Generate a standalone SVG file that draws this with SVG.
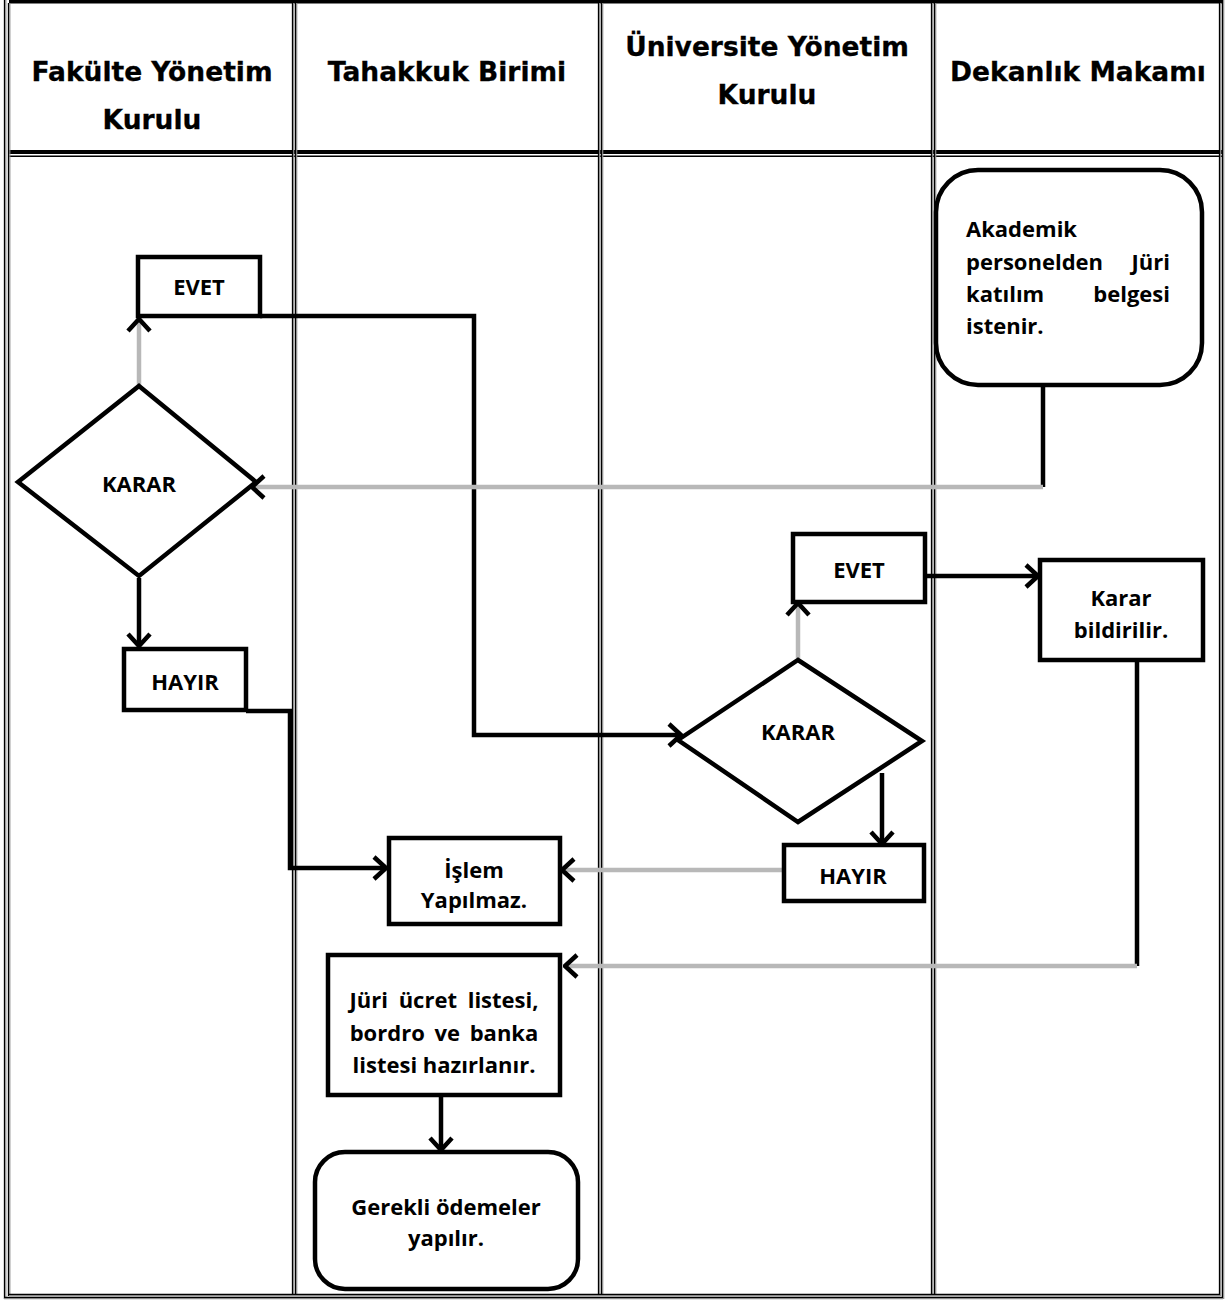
<svg xmlns="http://www.w3.org/2000/svg" width="1227" height="1300" viewBox="0 0 1227 1300">
<style>
.hdr{font-family:"DejaVu Sans",Verdana,sans-serif;font-weight:bold;font-size:26.5px;fill:#000;stroke:#000;stroke-width:0.3;text-anchor:middle}
.t{font-family:"Open Sans","Liberation Sans",sans-serif;font-weight:bold;font-size:22px;fill:#000;text-anchor:middle}
.tl{font-family:"Open Sans","Liberation Sans",sans-serif;font-weight:bold;font-size:22px;fill:#000}
.tr{font-family:"Open Sans","Liberation Sans",sans-serif;font-weight:bold;font-size:22px;fill:#000;text-anchor:end}
.box{fill:#fff;stroke:#000;stroke-width:4.5}
.bk{fill:none;stroke:#000;stroke-width:4.5}
.gr{fill:none;stroke:#b8b8b8;stroke-width:4.5}
.vb{stroke:#000;stroke-width:1.3}
.vg{stroke:#8a8a8a;stroke-width:1.2}
</style>
<defs>
<marker id="chev" viewBox="0 0 16 26" refX="14" refY="13" markerWidth="16" markerHeight="26" markerUnits="userSpaceOnUse" orient="auto">
<path d="M2,2 L14,13 L2,24" fill="none" stroke="#000" stroke-width="4.5"/>
</marker>
</defs>
<rect x="0" y="0" width="1227" height="1300" fill="#fff"/>
<g id="table">
<rect x="9" y="0" width="1213" height="3.5" fill="#000"/>
<rect x="9" y="150" width="1213" height="4" fill="#000"/>
<rect x="9" y="155.5" width="1213" height="1.5" fill="#000"/>
<line class="vb" x1="4.5" y1="0" x2="4.5" y2="1299"/>
<line class="vg" x1="5.8" y1="0" x2="5.8" y2="1299"/>
<line class="vb" x1="8.5" y1="3" x2="8.5" y2="1296"/>
<line class="vg" x1="9.8" y1="3" x2="9.8" y2="1296"/>
<line class="vb" x1="292.5" y1="3" x2="292.5" y2="1296"/>
<line class="vg" x1="293.7" y1="3" x2="293.7" y2="1296"/>
<line class="vb" x1="295.5" y1="3" x2="295.5" y2="1296"/>
<line class="vg" x1="296.7" y1="3" x2="296.7" y2="1296"/>
<line class="vb" x1="598.5" y1="3" x2="598.5" y2="1296"/>
<line class="vg" x1="599.7" y1="3" x2="599.7" y2="1296"/>
<line class="vb" x1="601.5" y1="3" x2="601.5" y2="1296"/>
<line class="vg" x1="602.7" y1="3" x2="602.7" y2="1296"/>
<line class="vb" x1="931.5" y1="3" x2="931.5" y2="1296"/>
<line class="vg" x1="932.7" y1="3" x2="932.7" y2="1296"/>
<line class="vb" x1="934.5" y1="3" x2="934.5" y2="1296"/>
<line class="vg" x1="935.7" y1="3" x2="935.7" y2="1296"/>
<line class="vb" x1="1219.5" y1="3" x2="1219.5" y2="1296"/>
<line class="vg" x1="1220.7" y1="3" x2="1220.7" y2="1296"/>
<line class="vb" x1="1222.5" y1="0" x2="1222.5" y2="1299"/>
<line class="vg" x1="1223.7" y1="0" x2="1223.7" y2="1299"/>
<line class="vb" x1="9" y1="1294.5" x2="1220" y2="1294.5"/>
<line class="vg" x1="9" y1="1295.7" x2="1220" y2="1295.7"/>
<line class="vb" x1="4" y1="1297.5" x2="1223" y2="1297.5"/>
<line class="vg" x1="4" y1="1298.7" x2="1223" y2="1298.7"/>
</g>
<g id="headers">
<text class="hdr" x="152" y="81">Fakülte Yönetim</text>
<text class="hdr" x="152" y="129">Kurulu</text>
<text class="hdr" x="447" y="81">Tahakkuk Birimi</text>
<text class="hdr" x="767" y="56">Üniversite Yönetim</text>
<text class="hdr" x="767" y="104">Kurulu</text>
<text class="hdr" x="1078" y="81">Dekanlık Makamı</text>
</g>
<g id="connectors">
<path class="gr" d="M139,386 L139,319" marker-end="url(#chev)"/>
<path class="bk" d="M139,578 L139,646" marker-end="url(#chev)"/>
<path class="bk" d="M246,711 L290,711 L290,868 L386,868" marker-end="url(#chev)"/>
<path class="bk" d="M260,316 L474,316 L474,735 L681,735" marker-end="url(#chev)"/>
<path class="gr" d="M798,658 L798,603" marker-end="url(#chev)"/>
<path class="bk" d="M925,576 L1038,576" marker-end="url(#chev)"/>
<path class="bk" d="M1137,660 L1137,966"/>
<path class="gr" d="M1137,966 L565,966" marker-end="url(#chev)"/>
<path class="bk" d="M882,773 L882,844" marker-end="url(#chev)"/>
<path class="gr" d="M784,870 L562,870" marker-end="url(#chev)"/>
<path class="bk" d="M1043,386 L1043,487"/>
<path class="gr" d="M1043,487 L252,487" marker-end="url(#chev)"/>
<path class="bk" d="M441,1096 L441,1150" marker-end="url(#chev)"/>
</g>
<g id="n-akademik">
<rect class="box" x="936" y="170" width="266" height="215" rx="42"/>
<text class="tl" x="966" y="237">Akademik</text>
<text class="tl" x="966" y="270">personelden</text>
<text class="tr" x="1170" y="270">Jüri</text>
<text class="tl" x="966" y="302">katılım</text>
<text class="tr" x="1170" y="302">belgesi</text>
<text class="tl" x="966" y="334">istenir.</text>
</g>
<g id="n-evet1">
<rect class="box" x="138" y="257" width="122" height="59"/>
<text class="t" x="199" y="295">EVET</text>
</g>
<g id="n-karar1">
<polygon class="box" points="139,386 256,482 139,576 18,482"/>
<text class="t" x="139" y="492">KARAR</text>
</g>
<g id="n-hayir1">
<rect class="box" x="124" y="649" width="122" height="61"/>
<text class="t" x="185" y="690">HAYIR</text>
</g>
<g id="n-evet2">
<rect class="box" x="793" y="534" width="132" height="68"/>
<text class="t" x="859" y="578">EVET</text>
</g>
<g id="n-karar2">
<polygon class="box" points="798,660 922,741 798,822 678,740"/>
<text class="t" x="798" y="740">KARAR</text>
</g>
<g id="n-kararbild">
<rect class="box" x="1040" y="560" width="163" height="100"/>
<text class="t" x="1121" y="606">Karar</text>
<text class="t" x="1121" y="638">bildirilir.</text>
</g>
<g id="n-hayir2">
<rect class="box" x="784" y="845" width="140" height="56"/>
<text class="t" x="853" y="884">HAYIR</text>
</g>
<g id="n-islem">
<rect class="box" x="389" y="838" width="171" height="86"/>
<text class="t" x="474" y="878">İşlem</text>
<text class="t" x="474" y="908">Yapılmaz.</text>
</g>
<g id="n-juri">
<rect class="box" x="328" y="955" width="232" height="140"/>
<text class="t" x="444" y="1008" word-spacing="5">Jüri ücret listesi,</text>
<text class="t" x="444" y="1041" word-spacing="4">bordro ve banka</text>
<text class="t" x="444" y="1073">listesi hazırlanır.</text>
</g>
<g id="n-gerekli">
<rect class="box" x="315" y="1152" width="263" height="137" rx="30"/>
<text class="t" x="446" y="1215">Gerekli ödemeler</text>
<text class="t" x="446" y="1246">yapılır.</text>
</g>
</svg>
